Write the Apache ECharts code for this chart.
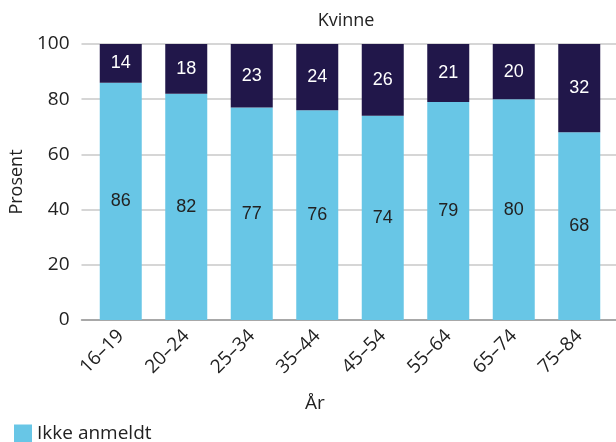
<!DOCTYPE html>
<html>
<head>
<meta charset="utf-8">
<script src="https://cdn.jsdelivr.net/npm/echarts@6/dist/echarts.min.js"></script>
<style>
  html, body { margin: 0; padding: 0; background: #fff; }
  #chart { width: 616px; height: 442px; }
</style>
</head>
<body>
<div id="chart"></div>
<script>
// Age groups and shares (percent), women
const ageGroups = ['16–19', '20–24', '25–34', '35–44', '45–54', '55–64', '65–74', '75–84']
const notReported = [86, 82, 77, 76, 74, 79, 80, 68]
const reported = [14, 18, 23, 24, 26, 21, 20, 32]
const yTicks = [0, 20, 40, 60, 80, 100]

const LIGHT = '#68c6e6'
const DARK = '#21174a'
const TEXT = '#222222'
const FONT = 'Open Sans'

const chart = echarts.init(document.getElementById('chart'), null, { renderer: 'canvas' })

chart.setOption({
  animation: false,
  textStyle: { fontFamily: FONT },
  title: {
    text: 'Kvinne',
    left: 341,
    top: 7,
    textAlign: 'center',
    textStyle: { fontFamily: FONT, fontSize: 18, fontWeight: 'normal', color: TEXT }
  },
  legend: {
    data: ['Ikke anmeldt'],
    left: 9,
    top: 419,
    itemWidth: 18,
    itemHeight: 18,
    itemGap: 10,
    icon: 'rect',
    textStyle: { fontFamily: FONT, fontSize: 19, color: TEXT }
  },
  // grid 0: gridlines + y labels across full width, grid 1: the bars
  grid: [
    { left: 67, right: 0, top: 44, bottom: 122 },
    { left: 88, right: 4, top: 44, bottom: 122 }
  ],
  xAxis: [
    {
      gridIndex: 0, type: 'value', min: 0, max: 1,
      axisLine: { show: true, lineStyle: { color: '#999', width: 1.5 } },
      axisTick: { show: false }, axisLabel: { show: false }, splitLine: { show: false }
    },
    {
      gridIndex: 1, type: 'category', data: ageGroups,
      axisLine: { show: false }, axisTick: { show: false },
      axisLabel: { rotate: 45, margin: 13, fontFamily: FONT, fontSize: 19, color: TEXT },
      name: 'År', nameLocation: 'middle', nameGap: 74,
      nameTextStyle: { fontFamily: FONT, fontSize: 19, color: TEXT, padding: [0, 70, 0, 0] }
    }
  ],
  yAxis: [
    {
      gridIndex: 0, type: 'value', min: 0, max: 100, interval: 20,
      axisLine: { show: false }, axisTick: { show: false },
      axisLabel: {
        margin: 12, fontFamily: FONT, fontSize: 19, color: TEXT,
        formatter: v => yTicks.includes(v) ? String(v) : ''
      },
      splitLine: { lineStyle: { color: '#c8c8c8', width: 1.5 } },
      name: 'Prosent', nameLocation: 'middle', nameGap: 45, nameRotate: 90,
      nameTextStyle: { fontFamily: FONT, fontSize: 18, color: TEXT }
    },
    {
      gridIndex: 1, type: 'value', min: 0, max: 100, show: false
    }
  ],
  series: [
    {
      name: 'Ikke anmeldt',
      type: 'bar',
      stack: 'total',
      xAxisIndex: 1, yAxisIndex: 1,
      barWidth: 42,
      itemStyle: { color: LIGHT },
      label: { show: true, position: 'inside', fontFamily: 'Liberation Sans', fontSize: 18, color: TEXT },
      data: notReported
    },
    {
      name: 'Anmeldt',
      type: 'bar',
      stack: 'total',
      xAxisIndex: 1, yAxisIndex: 1,
      barWidth: 42,
      itemStyle: { color: DARK },
      label: { show: true, position: 'inside', fontFamily: 'Liberation Sans', fontSize: 18, color: '#ffffff' },
      data: reported
    }
  ]
})
</script>
</body>
</html>
